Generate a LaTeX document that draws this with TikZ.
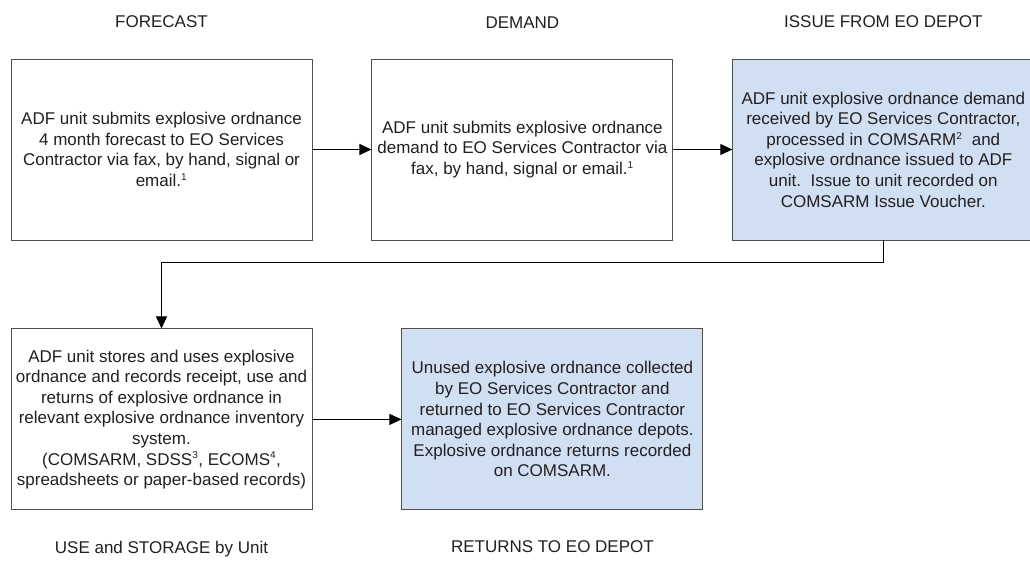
\documentclass[tikz,border=0pt]{standalone}
\usepackage{fontspec}
\setmainfont{Liberation Sans}
\usepackage{xcolor}
\usetikzlibrary{positioning,arrows.meta}
\definecolor{depotblue}{RGB}{208,223,242}
\definecolor{boxline}{RGB}{80,80,80}
\definecolor{inktext}{RGB}{35,31,32}
\newcommand{\fnmark}[1]{\textsuperscript{\fontsize{10}{10}\selectfont #1}}

\begin{document}
\begin{tikzpicture}[x=1pt, y=-1pt,
    stage/.style={draw=boxline, line width=0.9pt, rectangle, fill=white, text=inktext, minimum width=301pt, minimum height=181pt, align=center, font=\fontsize{17}{20.6}\selectfont},
    depot/.style={stage, fill=depotblue},
    heading/.style={text=inktext, font=\fontsize{17}{20}\selectfont},
    flow/.style={black, line width=0.9pt, -{Triangle[length=12pt,width=11pt]}}]
    \useasboundingbox (0,0) rectangle (1030,562);
    % top row
    \node[stage] (Forecast) at (161.5,149.5) {ADF unit submits explosive ordnance\\ 4 month forecast to EO Services\\ Contractor via fax, by hand, signal or\\ email.\fnmark{1}};
    \node[stage, right=59pt of Forecast] (Demand) {ADF unit submits explosive ordnance\\ demand to EO Services Contractor via\\ fax, by hand, signal or email.\fnmark{1}};
    \node[depot, right=59pt of Demand] (Issue) {ADF unit explosive ordnance demand\\ received by EO Services Contractor,\\ processed in COMSARM\fnmark{2}\ \ and\\ explosive ordnance issued to ADF\\ unit.\ \ Issue to unit recorded on\\ COMSARM Issue Voucher.};
    % bottom row
    \node[stage, below=88pt of Forecast] (Use) {ADF unit stores and uses explosive\\ ordnance and records receipt, use and\\ returns of explosive ordnance in\\ relevant explosive ordnance inventory\\ system.\\ (COMSARM, SDSS\fnmark{3}, ECOMS\fnmark{4},\\ spreadsheets or paper-based records)};
    \node[depot, right=89pt of Use] (Returns) {Unused explosive ordnance collected\\ by EO Services Contractor and\\ returned to EO Services Contractor\\ managed explosive ordnance depots.\\ Explosive ordnance returns recorded\\ on COMSARM.};
    % headings
    \node[heading, above=27pt of Forecast] (ForecastTitle) {FORECAST};
    \node[heading, above=27pt of Demand] (DemandTitle) {DEMAND};
    \node[heading, above=27pt of Issue] (IssueTitle) {ISSUE FROM EO DEPOT};
    \node[heading, below=27pt of Use] (UseTitle) {USE and STORAGE by Unit};
    \node[heading, below=27pt of Returns] (ReturnsTitle) {RETURNS TO EO DEPOT};
    % arrows
    \draw[flow] (Forecast) -- (Demand);
    \draw[flow] (Demand) -- (Issue);
    \draw[flow] (Issue.south) -- ++(0,22) -| (Use.north);
    \draw[flow] (Use) -- (Returns);
\end{tikzpicture}
\end{document}
